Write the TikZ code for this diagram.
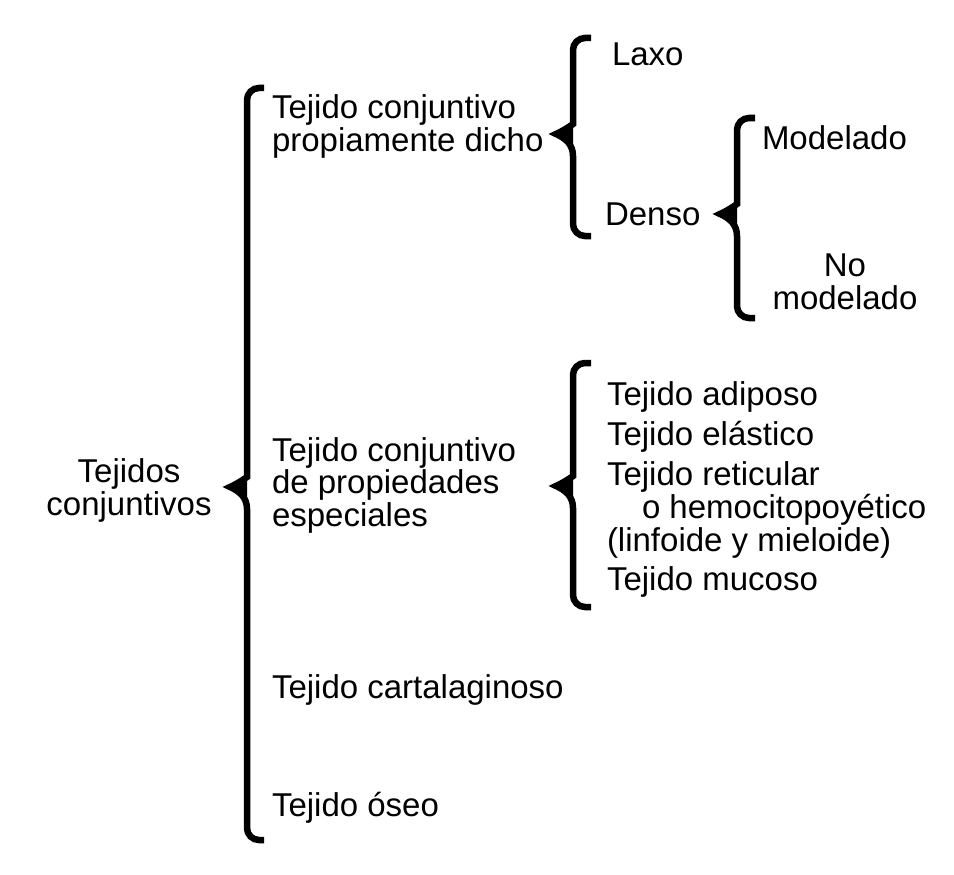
\documentclass[tikz,border=0pt]{standalone}
\usepackage{fontspec}
\setmainfont{Liberation Sans}
% #1 tip x, #2 vertical x, #3 arm end x, #4 top y, #5 mid y, #6 bottom y
\newcommand\drawbrace[6]{%
  \draw[brc] (#3,#4) [rounded corners=12pt] -- (#2,#4) -- (#2,{#5-22}) [sharp corners]
    .. controls (#2,{#5-10}) and ({#2-8},{#5-4}) .. ({#1+8},#5)
    .. controls ({#2-8},{#5+4}) and (#2,{#5+10}) .. (#2,{#5+22})
    [rounded corners=12pt] -- (#2,#6) -- (#3,#6);%
  \fill[black] ({#1+4},#5) .. controls ({#2-8},{#5-3}) .. (#2,{#5-12})
    -- (#2,{#5+12}) .. controls ({#2-8},{#5+3}) .. ({#1+4},#5) -- cycle;%
}
\begin{document}
\begin{tikzpicture}[x=1pt,y=-1pt,
  every node/.style={inner sep=0pt, outer sep=0pt, text=black},
  lbl/.style={anchor=base west, align=left, font=\fontsize{33}{32.5}\selectfont},
  clbl/.style={anchor=base, align=center, font=\fontsize{33}{32.5}\selectfont},
  brc/.style={line width=6.5pt, line join=miter, line cap=butt, draw=black}]
\useasboundingbox[fill=white] (0,0) rectangle (954,875);

% text nodes (multi-line nodes are placed at the baseline of their last line)
\node[clbl] (root) at (129,515) {Tejidos\\conjuntivos};
\node[lbl] (prop) at (272,151) {Tejido conjuntivo\\propiamente dicho};
\node[lbl] (esp) at (272,526) {Tejido conjuntivo\\de propiedades\\especiales};
\node[lbl] (cart) at (272,698) {Tejido cartalaginoso};
\node[lbl] (oseo) at (272,816) {Tejido óseo};
\node[lbl] (laxo) at (612,66) {Laxo};
\node[lbl] (denso) at (605,225) {Denso};
\node[lbl] (mod) at (762,149) {Modelado};
\node[clbl] (nomod) at (845,309) {No\\modelado};
\node[lbl] (adip) at (607,405) {Tejido adiposo};
\node[lbl] (elast) at (607,445) {Tejido elástico};
\node[lbl, font=\fontsize{33}{33}\selectfont] (retic) at (607,551) {Tejido reticular\\\hspace*{35pt}o hemocitopoyético\\(linfoide y mieloide)};
\node[lbl] (muc) at (607,590) {Tejido mucoso};

% braces
\drawbrace{222}{247}{264}{88}{487}{840}
\drawbrace{548}{573}{591}{38}{134}{236}
\drawbrace{712}{737}{755}{118}{214}{318}
\drawbrace{548}{573}{591}{363}{486}{607}
\end{tikzpicture}
\end{document}
